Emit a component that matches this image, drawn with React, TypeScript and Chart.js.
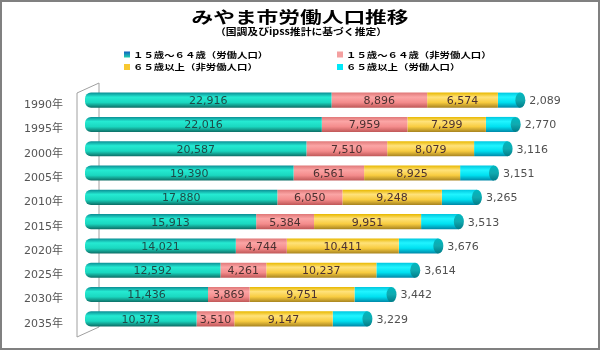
import React, { useEffect, useRef } from "react";
import { Chart, registerables } from "chart.js";

Chart.register(...registerables);

const categories = ["1990年", "1995年", "2000年", "2005年", "2010年", "2015年", "2020年", "2025年", "2030年", "2035年"];
const labor1564 = [22916, 22016, 20587, 19390, 17880, 15913, 14021, 12592, 11436, 10373];
const nonLabor1564 = [8896, 7959, 7510, 6561, 6050, 5384, 4744, 4261, 3869, 3510];
const nonLabor65 = [6574, 7299, 8079, 8925, 9248, 9951, 10411, 10237, 9751, 9147];
const labor65 = [2089, 2770, 3116, 3151, 3265, 3513, 3676, 3614, 3442, 3229];

const seriesNames = [
  "１５歳～６４歳（労働人口）",
  "１５歳～６４歳（非労働人口）",
  "６５歳以上（非労働人口）",
  "６５歳以上（労働人口）",
];
const titleText = "みやま市労働人口推移";
const subtitleText = "（国調及びipss推計に基づく推定）";

const palettes = [
  { top: "#0b8f95", hi: "#25ead2", mid: "#1ad8c0", bot: "#0d6e66", legend: "#1a9ab8" },
  { top: "#e07878", hi: "#fba5a5", mid: "#f48c8c", bot: "#c05858", legend: "#f4a0a0" },
  { top: "#e8b800", hi: "#ffe27a", mid: "#f8cc40", bot: "#a88420", legend: "#f8c830" },
  { top: "#00c8e0", hi: "#20f4ff", mid: "#00e0f0", bot: "#0088a8", legend: "#00e8f8" },
];

function makeBg(pi: number) {
  return (c: any) => {
    const p = palettes[pi];
    const ch = c.chart;
    const ys = ch.scales && ch.scales.y;
    if (!ch.chartArea || !ys || c.dataIndex === undefined) return p.mid;
    const y = ys.getPixelForValue(c.dataIndex);
    const h = 7.5;
    const g = ch.ctx.createLinearGradient(0, y - h, 0, y + h);
    g.addColorStop(0, p.top);
    g.addColorStop(0.3, p.hi);
    g.addColorStop(0.65, p.mid);
    g.addColorStop(1, p.bot);
    return g;
  };
}

const decorPlugin = {
  id: "decor",
  beforeDatasetsDraw(chart: any) {
    const { ctx, chartArea } = chart;
    const L = chartArea.left, T = chartArea.top, B = chartArea.bottom;
    ctx.save();
    ctx.strokeStyle = "#a0a0a0";
    ctx.lineWidth = 1;
    ctx.beginPath();
    ctx.moveTo(L + 14, T - 5);
    ctx.lineTo(L + 14, B - 4);
    ctx.moveTo(L - 8, T + 5);
    ctx.lineTo(L - 8, B + 6);
    ctx.moveTo(L - 8, T + 5);
    ctx.lineTo(L + 14, T - 5);
    ctx.moveTo(L - 8, B + 6);
    ctx.lineTo(L + 14, B - 4);
    ctx.stroke();
    ctx.restore();
  },
  afterDatasetsDraw(chart: any) {
    const { ctx } = chart;
    ctx.save();
    const lastMeta = chart.getDatasetMeta(3);
    lastMeta.data.forEach((el: any) => {
      const { x, y, height } = el.getProps(["x", "y", "height"], true);
      const ry = height / 2;
      const g = ctx.createLinearGradient(0, y - ry, 0, y + ry);
      g.addColorStop(0, "#00b8c0");
      g.addColorStop(0.5, "#10aab0");
      g.addColorStop(1, "#007c88");
      ctx.fillStyle = g;
      ctx.beginPath();
      ctx.ellipse(x, y, 5, ry, 0, 0, Math.PI * 2);
      ctx.fill();
    });
    ctx.font = "11px 'DejaVu Sans'";
    ctx.textBaseline = "middle";
    chart.data.datasets.forEach((ds: any, di: number) => {
      const meta = chart.getDatasetMeta(di);
      meta.data.forEach((el: any, i: number) => {
        const { x, y, base } = el.getProps(["x", "y", "base"], true);
        const v = ds.data[i];
        const txt = v.toLocaleString("en-US");
        if (di === 3) {
          ctx.textAlign = "left";
          ctx.fillStyle = "#505050";
          ctx.fillText(txt, x + 9, y + 1);
        } else {
          ctx.textAlign = "center";
          ctx.fillStyle = di === 0 ? "#1e4a48" : "#4a3030";
          ctx.fillText(txt, (x + base) / 2, y + 1);
        }
      });
    });
    ctx.restore();
  },
  afterDraw(chart: any) {
    const { ctx, width, height } = chart;
    ctx.save();
    ctx.fillStyle = "#000";
    ctx.textAlign = "center";
    ctx.textBaseline = "middle";
    ctx.save();
    ctx.translate(300, 17);
    ctx.scale(1.4, 1);
    ctx.font = "bold 15.5px 'Noto Sans CJK JP'";
    ctx.fillText(titleText, 0, 0);
    ctx.restore();
    ctx.save();
    ctx.translate(301, 32);
    ctx.scale(1.2, 1);
    ctx.font = "bold 9px 'Noto Sans CJK JP'";
    ctx.fillText(subtitleText, 0, 0);
    ctx.restore();
    const cols = [124, 337];
    const rows = [54.5, 67];
    seriesNames.forEach((name, i) => {
      const cx = cols[i % 2];
      const cy = rows[Math.floor(i / 2)];
      const p = palettes[i];
      if (i === 0) {
        const g = ctx.createLinearGradient(0, cy - 3, 0, cy + 3);
        g.addColorStop(0, "#1060c0");
        g.addColorStop(1, "#20d0b0");
        ctx.fillStyle = g;
      } else {
        ctx.fillStyle = p.legend;
      }
      ctx.fillRect(cx, cy - 3, 6, 6);
      ctx.save();
      ctx.translate(cx + 9, cy);
      ctx.scale(1.3, 1);
      ctx.font = "bold 8px 'Noto Sans CJK JP'";
      ctx.textAlign = "left";
      ctx.fillStyle = "#000";
      ctx.fillText(name, 0, 0);
      ctx.restore();
    });
    ctx.strokeStyle = "#808080";
    ctx.lineWidth = 2;
    ctx.strokeRect(1, 1, width - 2, height - 2);
    ctx.restore();
  },
};

export default function App() {
  const ref = useRef<HTMLCanvasElement | null>(null);
  useEffect(() => {
    if (!ref.current) return;
    const series = [labor1564, nonLabor1564, nonLabor65, labor65];
    const chart = new Chart(ref.current, {
      type: "bar",
      data: {
        labels: categories,
        datasets: series.map((d, i) => ({
          label: seriesNames[i],
          data: d,
          backgroundColor: makeBg(i),
          borderWidth: 0,
          borderSkipped: i === 0 ? false : "start",
          borderRadius: i === 0 ? { topLeft: 6, bottomLeft: 6, topRight: 0, bottomRight: 0 } : 0,
          categoryPercentage: 1,
          barPercentage: 0.62,
        })),
      },
      options: {
        indexAxis: "y",
        responsive: false,
        animation: false,
        maintainAspectRatio: false,
        layout: { padding: { left: 23, right: 31, top: 88, bottom: 19 } },
        plugins: {
          legend: { display: false },
          title: { display: false },
          tooltip: { enabled: false },
        },
        scales: {
          x: { stacked: true, min: 0, max: 45000, display: false },
          y: {
            stacked: true,
            grid: { display: false, drawTicks: false },
            border: { display: false },
            ticks: {
              padding: 22,
              labelOffset: 5,
              color: "#555",
              font: { family: "'DejaVu Sans', 'Noto Sans CJK JP'", size: 11 },
            },
            afterFit: (s: any) => {
              s.width = 62;
              s.paddingTop = 0;
              s.paddingBottom = 0;
            },
          },
        },
      } as any,
      plugins: [decorPlugin],
    });
    return () => chart.destroy();
  }, []);
  return (
    <div style={{ position: "fixed", left: 0, top: 0, width: 600, height: 350, background: "#fff" }}>
      <canvas ref={ref} width={600} height={350} style={{ width: 600, height: 350 }} />
    </div>
  );
}
